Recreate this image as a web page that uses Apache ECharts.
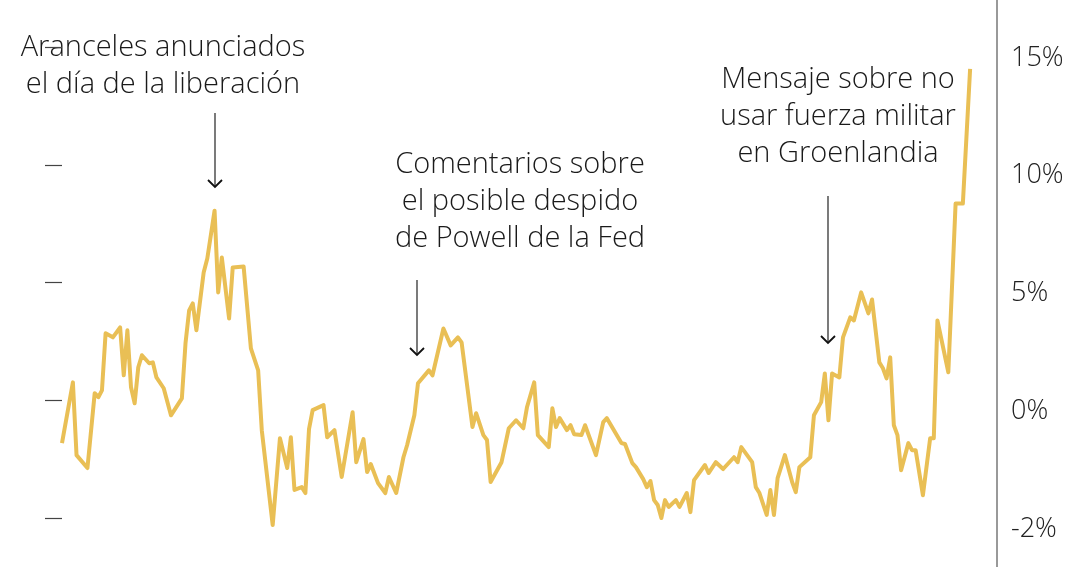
<!DOCTYPE html>
<html><head><meta charset="utf-8">
<script src="https://cdn.jsdelivr.net/npm/echarts@6/dist/echarts.min.js"></script>
<style>html,body{margin:0;padding:0;background:#fff}#c{width:1080px;height:567px}</style>
</head><body><div id="c"></div>
<script>
const days = [0,3,4,7,9,10,11,12,14,16,17,18,19,20,21,22,24,25,26,28,30,33,34,35,36,37,39,40,42,43,44,46,47,50,52,54,55,58,60,62,63,64,66,67,68,69,72,73,75,77,80,81,83,84,85,87,89,90,92,94,95,97,98,101,102,105,107,109,110,113,114,116,117,118,121,123,125,127,128,130,131,134,135,136,137,139,140,141,143,144,147,149,150,154,155,157,158,160,161,162,163,164,165,166,167,169,170,172,173,174,177,178,180,182,185,186,187,190,191,192,194,195,196,197,199,201,202,203,206,207,209,210,211,212,214,215,217,218,220,222,223,225,226,227,228,229,230,231,233,234,235,237,239,240,241,244,246,248,250];
const values = [-1.82,0.76,-2.33,-2.88,0.30,0.13,0.42,2.84,2.67,3.09,1.06,2.97,0.55,-0.13,1.40,1.91,1.57,1.61,0.97,0.51,-0.64,0.08,2.42,3.81,4.11,2.97,5.42,6.02,8.05,4.58,6.06,3.47,5.64,5.68,2.20,1.27,-1.27,-5.30,-1.61,-2.88,-1.57,-3.81,-3.69,-3.94,-1.23,-0.42,-0.21,-1.57,-1.27,-3.26,-0.51,-2.63,-1.65,-3.05,-2.71,-3.52,-3.94,-3.26,-3.94,-2.42,-1.91,-0.64,0.72,1.27,1.06,3.05,2.33,2.67,2.46,-1.14,-0.55,-1.48,-1.69,-3.47,-2.63,-1.19,-0.85,-1.19,-0.30,0.76,-1.48,-1.99,-0.34,-1.14,-0.76,-1.27,-1.06,-1.44,-1.48,-1.06,-2.33,-0.93,-0.76,-1.82,-1.86,-2.67,-2.84,-3.35,-3.69,-3.43,-4.24,-4.45,-5.00,-4.24,-4.53,-4.24,-4.53,-3.94,-4.75,-3.39,-2.75,-3.09,-2.63,-2.92,-2.42,-2.63,-1.99,-2.63,-3.69,-3.94,-4.87,-3.81,-4.87,-3.31,-2.33,-3.47,-3.90,-2.84,-2.42,-0.64,-0.08,1.14,-0.85,1.14,0.97,2.67,3.52,3.39,4.58,3.69,4.28,1.61,1.36,0.93,1.82,-1.06,-1.48,-2.97,-1.82,-2.12,-2.12,-4.03,-1.61,-1.61,3.39,1.19,8.35,8.35,14.07];
const tickValues = [-5,0,5,10,15];
const tickLabels = {'-5':'-2%','0':'0%','5':'5%','10':'10%','15':'15%'};
const notes = [
  {lines:['Aranceles anunciados','el día de la liberación'], cx:163, y0:48, ax:215, ay0:113, ay1:187},
  {lines:['Comentarios sobre','el posible despido','de Powell de la Fed'], cx:520, y0:165, ax:417, ay0:280, ay1:355},
  {lines:['Mensaje sobre no','usar fuerza militar','en Groenlandia'], cx:838, y0:80, ax:828, ay0:196, ay1:343}
];
const FONT = '"Open Sans", "Noto Sans", sans-serif';
const graphics = [{type:'line',shape:{x1:997,y1:0,x2:997,y2:567},style:{stroke:'#555',lineWidth:1.2}}];
notes.forEach(n=>{
  n.lines.forEach((t,i)=>graphics.push({type:'text',x:n.cx,y:n.y0+i*37,style:{text:t,fill:'#1a1a1a',font:'300 29px '+FONT,textAlign:'center',textVerticalAlign:'middle'}}));
  graphics.push({type:'line',shape:{x1:n.ax,y1:n.ay0,x2:n.ax,y2:n.ay1},style:{stroke:'#333',lineWidth:1.3}});
  graphics.push({type:'polyline',shape:{points:[[n.ax-7,n.ay1-7],[n.ax,n.ay1],[n.ax+7,n.ay1-7]]},style:{stroke:'#111',lineWidth:1.8,fill:null}});
});
const chart = echarts.init(document.getElementById('c'));
chart.setOption({
  animation:false,
  grid:{left:62,right:83,top:47,bottom:49},
  xAxis:{type:'value',min:0,max:257.4,show:false},
  yAxis:{type:'value',position:'right',min:-5,max:15,interval:5,
    splitLine:{show:false},axisLine:{show:false},
    axisTick:{show:true,inside:true,length:17,lineStyle:{color:'#444',width:1.2}},
    axisLabel:{margin:14,verticalAlign:'top',lineHeight:22,fontSize:27,color:'#222',fontFamily:FONT,fontWeight:300,
      formatter:v=>tickLabels[String(v)]}},
  series:[{type:'line',data:days.map((d,i)=>[d,values[i]]),showSymbol:false,clip:false,
    lineStyle:{color:'#E9BF55',width:4,join:'round'}}],
  graphic:graphics
});
</script></body></html>
